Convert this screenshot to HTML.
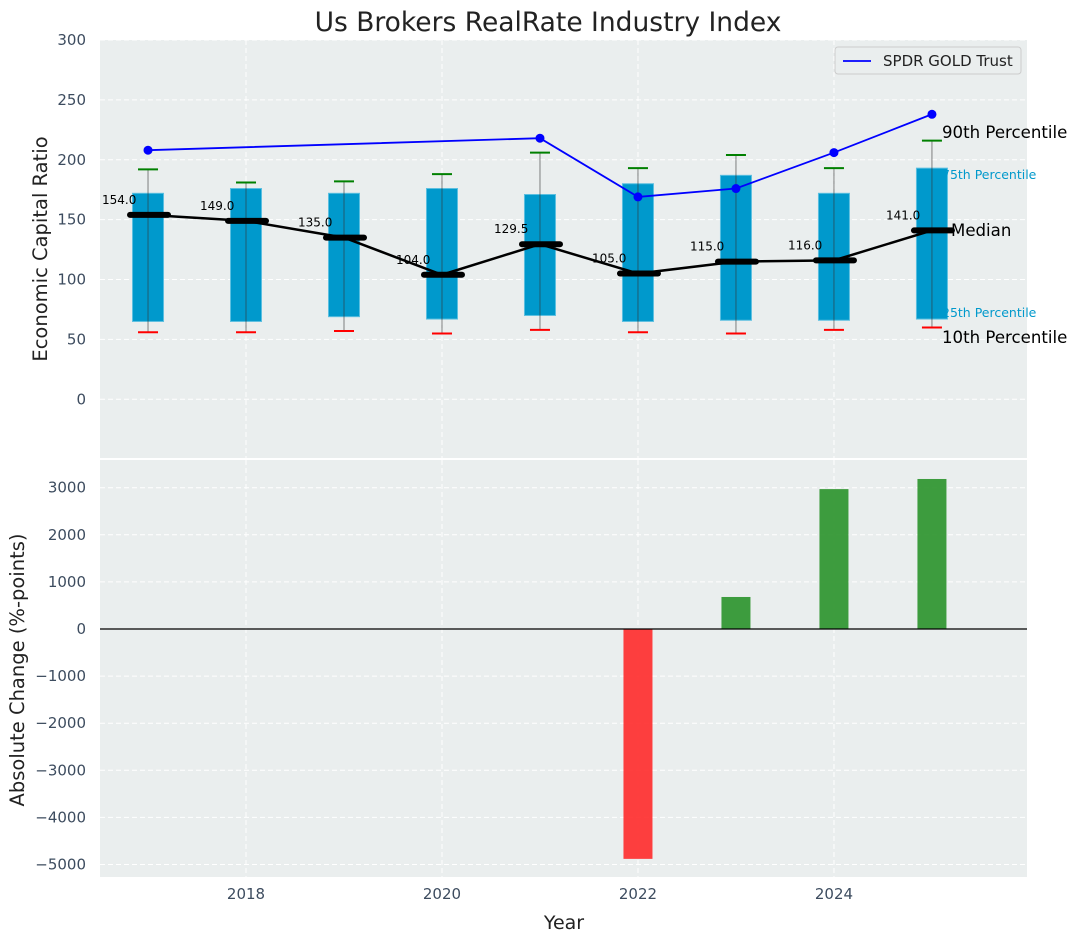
<!DOCTYPE html>
<html><head><meta charset="utf-8"><style>
body{margin:0;background:#fff;}
svg{display:block;font-family:"DejaVu Sans","Liberation Sans",sans-serif;}
.tick{fill:#3d4c5f;font-size:15px;}
</style></head><body>
<svg id="chart" width="1077" height="942"></svg>
<script>
const years=[2017,2018,2019,2020,2021,2022,2023,2024,2025];
const q1=[65,65,69,67,70,65,66,66,67];
const q3=[172,176,172,176,171,180,187,172,193];
const wLow=[56,56,57,55,58,56,55,58,60];
const wHigh=[192,181,182,188,206,193,204,193,216];
const medians=[154,149,135,104,129.5,105,115,116,141];
const goldYears=[2017,2021,2022,2023,2024,2025];
const goldVals=[208,218,169,176,206,238];
const changeYears=[2022,2023,2024,2025];
const changeVals=[-4880,680,2970,3185];
const topTicks=[0,50,100,150,200,250,300];
const botTicks=[-5000,-4000,-3000,-2000,-1000,0,1000,2000,3000];
const xTicks=[2018,2020,2022,2024];

const NS="http://www.w3.org/2000/svg";
const svg=document.getElementById('chart');
function el(tag,attrs,parent,text){const e=document.createElementNS(NS,tag);for(const k in attrs)e.setAttribute(k,attrs[k]);if(text!==undefined)e.textContent=text;(parent||svg).appendChild(e);return e;}
const L=100,R=1027;
const x=v=>L+(v-2016.51)/(2025.97-2016.51)*(R-L);
const T0=40,T1=458,B0=460,B1=877;
const yT=v=>T0+(300-v)/(300+49)*(T1-T0);
const yB=v=>B0+(3588-v)/(3588+5265)*(B1-B0);

let e=el('rect',{x:L,y:T0,width:R-L,height:T1-T0,fill:'#eaeeee'});

e=el('rect',{x:L,y:B0,width:R-L,height:B1-B0,fill:'#eaeeee'});


topTicks.forEach(t=>{el('line',{x1:L,x2:R,y1:yT(t),y2:yT(t),stroke:'#fff','stroke-dasharray':'5,3','stroke-width':1});
 const tx=el('text',{x:86,y:yT(t)+5,'text-anchor':'end',class:'tick'},svg,t);
 });
botTicks.forEach(t=>{el('line',{x1:L,x2:R,y1:yB(t),y2:yB(t),stroke:'#fff','stroke-dasharray':'5,3','stroke-width':1});
 const tx=el('text',{x:86,y:yB(t)+5,'text-anchor':'end',class:'tick'},svg,t<0?'\u2212'+(-t):t);
 });
xTicks.forEach(t=>{el('line',{x1:x(t),x2:x(t),y1:T0,y2:T1,stroke:'#fff','stroke-dasharray':'5,3'});
 el('line',{x1:x(t),x2:x(t),y1:B0,y2:B1,stroke:'#fff','stroke-dasharray':'5,3'});
 const tx=el('text',{x:x(t),y:899,'text-anchor':'middle',class:'tick'},svg,t);
 });

years.forEach((yr,i)=>{
 const cx=x(yr);
 const b=el('rect',{x:cx-15.5,y:yT(q3[i]),width:31,height:yT(q1[i])-yT(q3[i]),fill:'#0099cc',stroke:'#5bbfe0','stroke-width':1});
 
 el('line',{x1:cx,x2:cx,y1:yT(wHigh[i]),y2:yT(wLow[i]),stroke:'#333','stroke-opacity':0.6,'stroke-width':1});
 el('line',{x1:cx-10,x2:cx+10,y1:yT(wHigh[i]),y2:yT(wHigh[i]),stroke:'green','stroke-width':2});
 el('line',{x1:cx-10,x2:cx+10,y1:yT(wLow[i]),y2:yT(wLow[i]),stroke:'red','stroke-width':2});
});
let pts=years.map((yr,i)=>x(yr)+','+yT(medians[i])).join(' ');
e=el('polyline',{points:pts,fill:'none',stroke:'#000','stroke-width':2.5});

years.forEach((yr,i)=>{const cx=x(yr),cy=yT(medians[i]);
 const m=el('line',{x1:cx-18,x2:cx+20,y1:cy,y2:cy,stroke:'#000','stroke-width':6,'stroke-linecap':'round'});
 
 const t=el('text',{x:cx-46,y:cy-11,'font-size':12,fill:'#000'},svg,medians[i].toFixed(1));
 });
pts=goldYears.map((yr,i)=>x(yr)+','+yT(goldVals[i])).join(' ');
e=el('polyline',{points:pts,fill:'none',stroke:'blue','stroke-width':1.8});

goldYears.forEach((yr,i)=>{const c=el('circle',{cx:x(yr),cy:yT(goldVals[i]),r:4.5,fill:'blue'});
 });
const ann=[['90th Percentile',942,138,16.6,'#000'],['75th Percentile',942,179,12.5,'#0099cc'],['Median',951,236,16.6,'#000'],['25th Percentile',942,317,12.5,'#0099cc'],['10th Percentile',942,343,16.6,'#000']];
ann.forEach(a=>{const t=el('text',{x:a[1],y:a[2],'font-size':a[3],fill:a[4]},svg,a[0]);
 });
const lg=el('g',{});

el('rect',{x:835,y:47,width:186,height:27,rx:3,fill:'#eaeeee',stroke:'#ccc'},lg);
el('line',{x1:843,x2:871,y1:61,y2:61,stroke:'blue','stroke-width':1.8},lg);
el('text',{x:883,y:66,'font-size':15,fill:'#222'},lg,'SPDR GOLD Trust');

changeYears.forEach((yr,i)=>{const v=changeVals[i];const y0=yB(0),y1=yB(v);
 const b=el('rect',{x:x(yr)-14.5,y:Math.min(y0,y1),width:29,height:Math.abs(y1-y0),fill:v<0?'#ff2a2a':'#2a922a','fill-opacity':0.9});
 });
el('line',{x1:L,x2:R,y1:yB(0),y2:yB(0),stroke:'#000','stroke-width':1.2});

e=el('text',{x:548,y:31,'text-anchor':'middle','font-size':26.5,fill:'#222'},svg,'Us Brokers RealRate Industry Index');

e=el('text',{x:564,y:929,'text-anchor':'middle','font-size':19,fill:'#222'},svg,'Year');

e=el('text',{x:0,y:0,'text-anchor':'middle','font-size':19.5,fill:'#222',transform:'translate(47,249) rotate(-90)'},svg,'Economic Capital Ratio');

e=el('text',{x:0,y:0,'text-anchor':'middle','font-size':19.5,fill:'#222',transform:'translate(24,670) rotate(-90)'},svg,'Absolute Change (%-points)');

</script>
</body></html>
